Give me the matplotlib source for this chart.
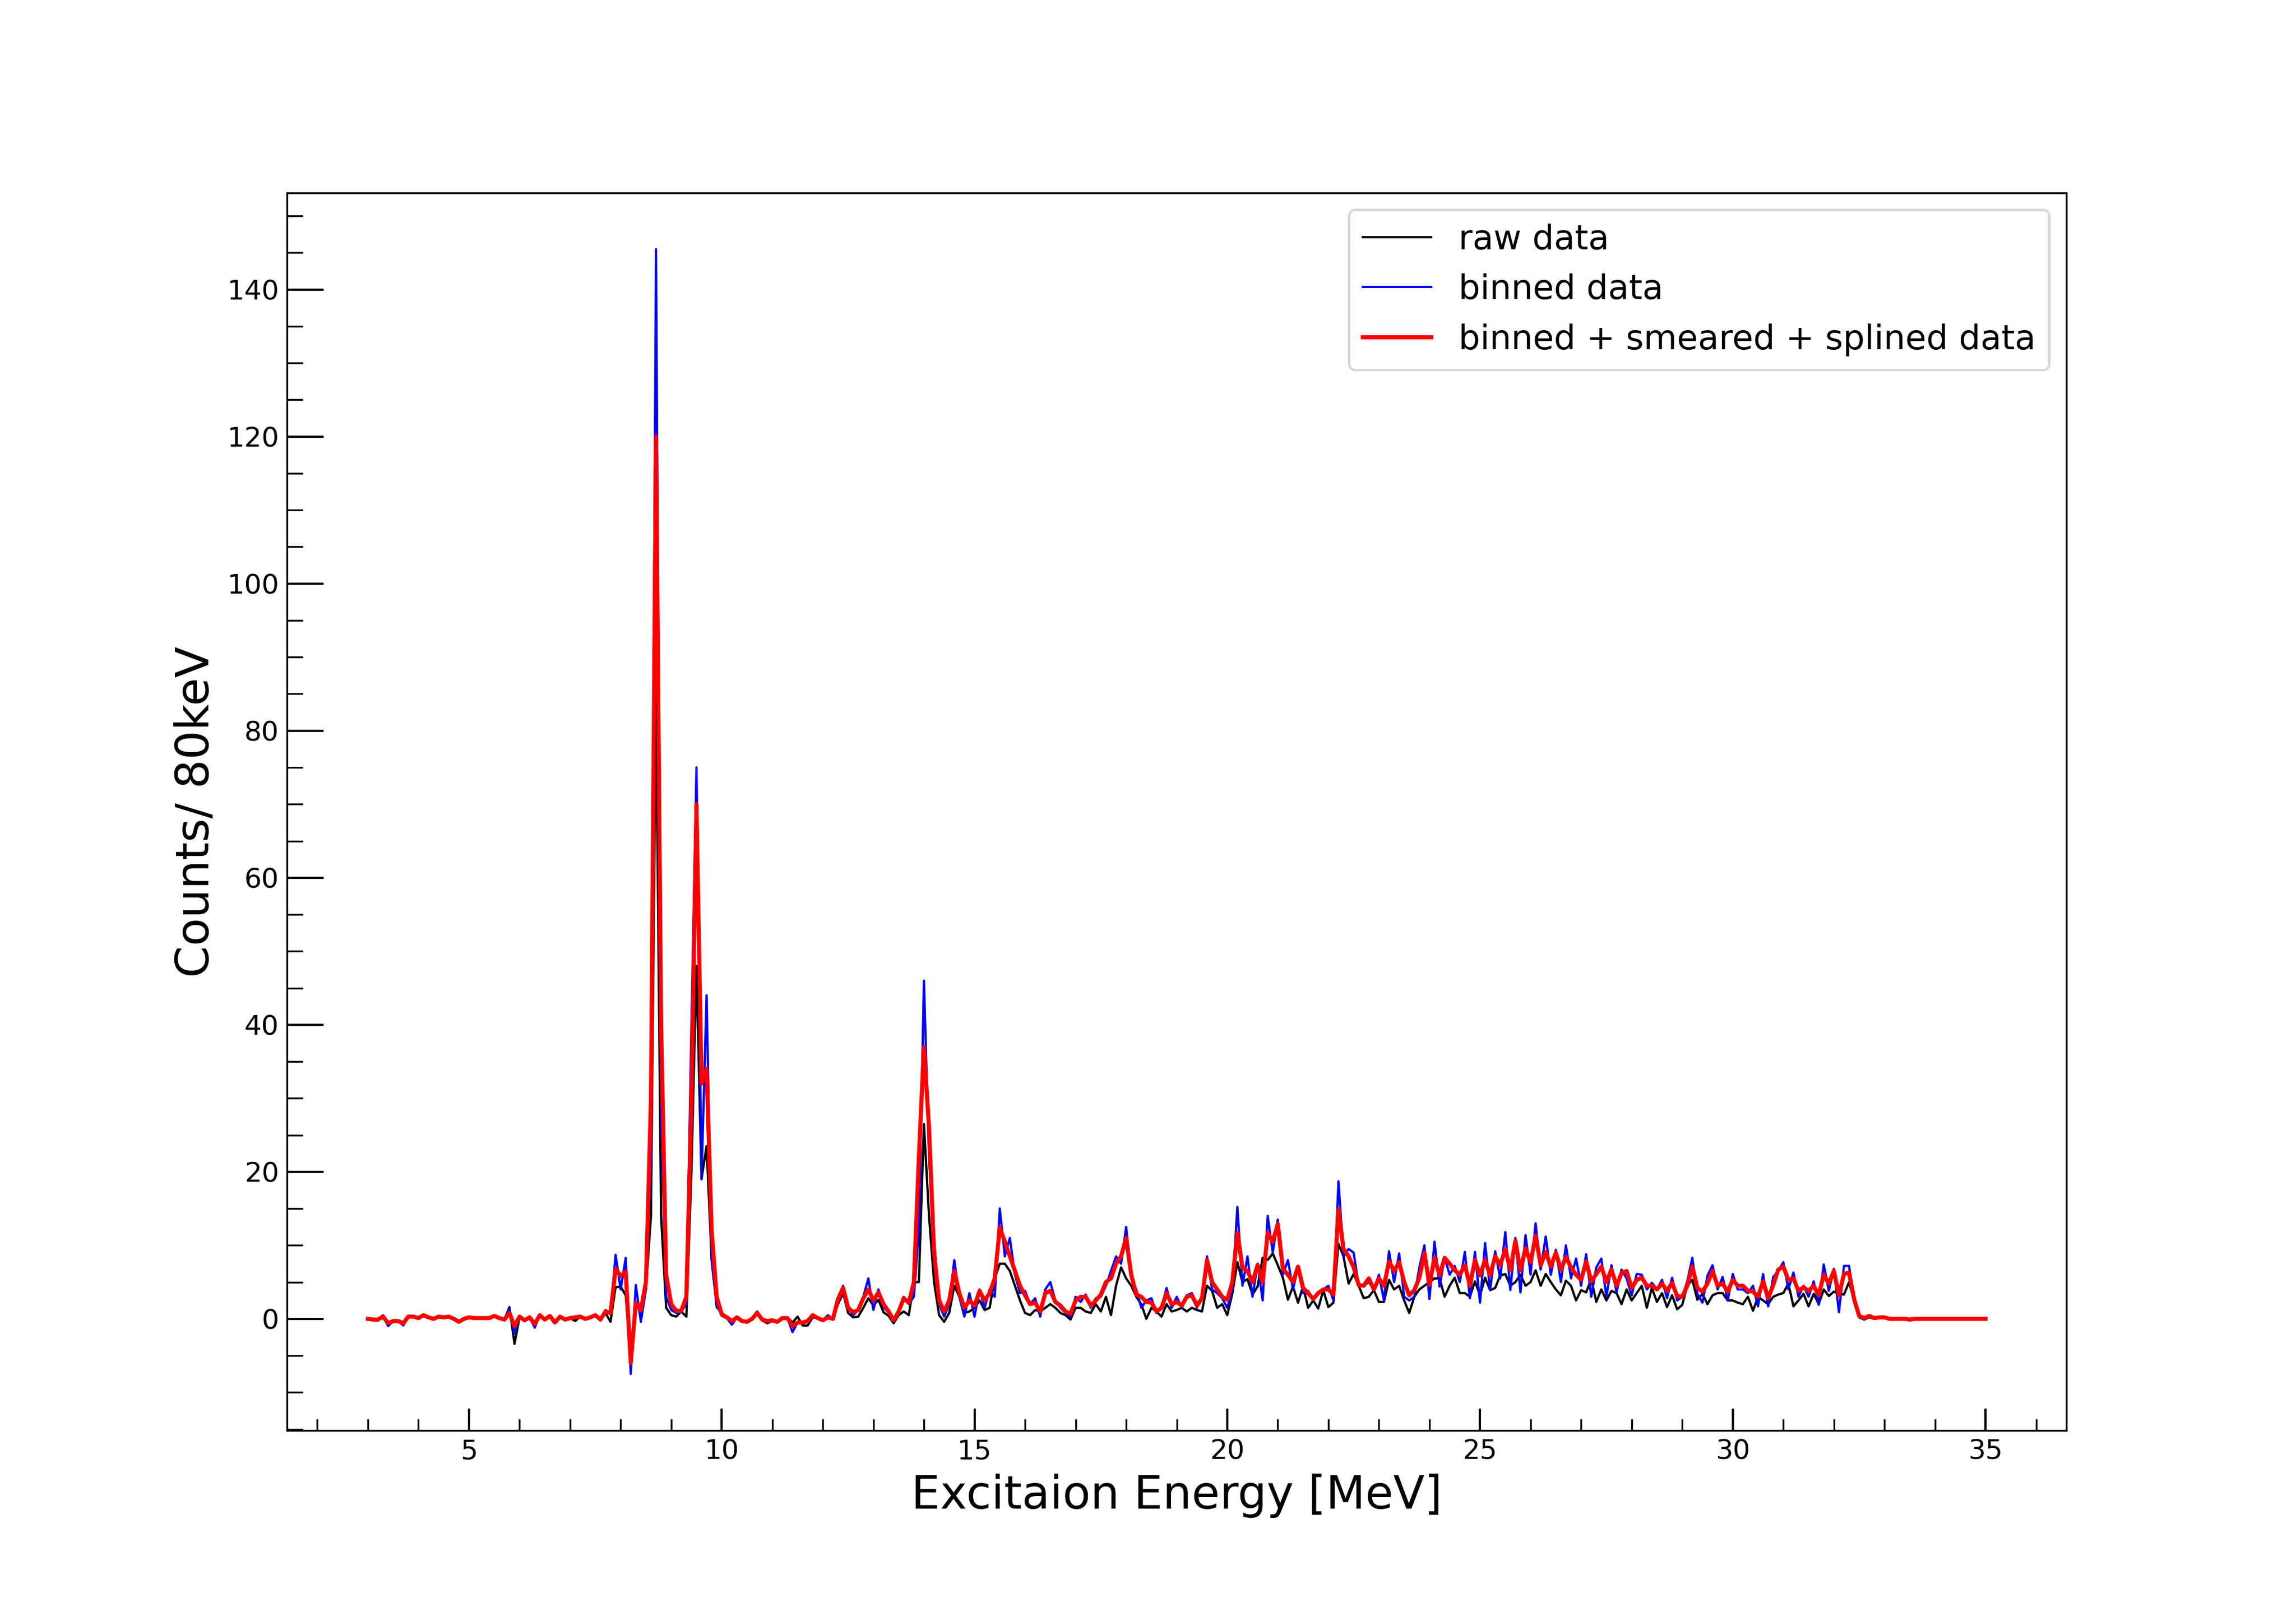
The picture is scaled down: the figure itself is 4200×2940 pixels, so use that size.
## Excitation energy spectrum: raw / binned / smeared

import numpy as np
import matplotlib
matplotlib.use("Agg")
import matplotlib.pyplot as plt
from matplotlib.ticker import MultipleLocator

# energy grid: 3.0 MeV ... 35.0 MeV in 0.1 MeV steps
e_start = 3.0
e_step = 0.1

# raw data (black)
raw_counts = [
    0.0, -0.1, -0.1, 0.3, -0.7, -0.2, -0.3, -0.7, 0.3, 0.3,      # 3
    0.1, 0.4, 0.2, 0.0, 0.3, 0.1, 0.3, 0.0, -0.4, 0.0,           # 4
    0.2, 0.1, 0.1, 0.1, 0.1, 0.3, 0.1, -0.1, 1.6, -3.4,          # 5
    0.2, -0.2, 0.2, -0.6, 0.4, -0.1, 0.3, -0.4, 0.3, -0.1,       # 6
    0.1, -0.3, 0.3, 0.0, 0.2, 0.4, -0.1, 0.8, -0.4, 4.3,         # 7
    4.4, 3.2, -5.5, 1.8, 1.0, 4.0, 14.0, 85.5, 14.0, 1.5,        # 8
    0.5, 0.3, 1.0, 0.3, 20.0, 48.0, 19.0, 23.5, 8.0, 1.6,        # 9
    0.8, 0.3, -0.3, 0.2, -0.3, -0.5, 0.0, 1.0, -0.2, -0.6,       # 10
    -0.3, -0.4, 0.2, 0.2, -0.5, 0.3, -0.9, -0.9, 0.2, 0.1,       # 11
    -0.2, 0.2, 0.0, 2.0, 3.5, 0.8, 0.2, 0.3, 1.5, 2.8,           # 12
    1.8, 2.6, 0.9, 0.4, -0.6, 0.5, 1.0, 0.5, 5.0, 5.0,           # 13
    26.5, 14.0, 5.0, 0.5, -0.4, 0.8, 4.5, 3.0, 0.8, 1.0,         # 14
    1.5, 2.5, 1.2, 1.5, 5.5, 7.5, 7.5, 6.5, 4.5, 2.5,            # 15
    0.8, 0.5, 1.2, 1.0, 1.5, 2.0, 1.5, 0.8, 0.5, -0.1,           # 16
    1.5, 1.5, 1.0, 0.8, 2.0, 1.0, 3.0, 0.5, 4.5, 7.0,            # 17
    5.5, 4.5, 3.0, 2.0, 0.0, 1.5, 1.0, 0.3, 2.0, 1.0,            # 18
    1.2, 1.5, 1.0, 1.5, 1.2, 1.0, 4.5, 3.8, 1.5, 2.0,            # 19
    0.5, 3.4, 7.7, 5.0, 5.4, 3.3, 4.4, 8.3, 8.0, 8.9,            # 20
    7.3, 5.6, 2.6, 4.4, 2.2, 4.4, 1.5, 2.5, 1.4, 3.9,            # 21
    1.6, 2.2, 10.2, 8.5, 4.8, 6.1, 4.5, 2.8, 3.0, 3.9,           # 22
    2.3, 2.3, 5.3, 4.0, 4.5, 2.5, 0.8, 3.0, 4.0, 4.5,            # 23
    5.0, 5.5, 5.5, 3.0, 4.5, 5.6, 3.5, 3.5, 3.0, 5.1,            # 24
    3.2, 5.6, 3.9, 4.2, 5.9, 6.1, 4.5, 5.0, 6.0, 4.5,            # 25
    5.0, 6.6, 4.5, 6.1, 5.0, 4.0, 3.2, 5.2, 4.5, 2.5,            # 26
    3.9, 3.6, 5.4, 2.3, 4.0, 2.5, 3.8, 3.5, 2.0, 4.0,            # 27
    2.5, 3.5, 4.5, 1.5, 4.2, 2.3, 3.5, 1.6, 3.2, 1.3,            # 28
    1.9, 4.5, 5.3, 2.6, 3.4, 2.0, 3.2, 3.5, 3.5, 2.5,            # 29
    2.5, 2.2, 2.0, 3.0, 1.1, 3.0, 2.5, 2.0, 3.0, 3.3,            # 30
    3.5, 4.8, 1.7, 2.5, 3.4, 1.7, 3.4, 2.0, 4.0, 3.1,            # 31
    3.7, 3.4, 3.3, 5.0, 2.5, 0.2, -0.1, 0.2, 0.0, 0.2,           # 32
    0.2, 0.0, 0.0, 0.0, 0.0, -0.1, 0.0, 0.0, 0.0, 0.0,           # 33
    0.0, 0.0, 0.0, 0.0, 0.0, 0.0, 0.0, 0.0, 0.0, 0.0,            # 34
    0.0,                                                          # 35
]

# binned data (blue)
binned_counts = [
    0.0, -0.1, -0.1, 0.5, -1.0, -0.3, -0.3, -0.9, 0.3, 0.3,      # 3
    0.1, 0.5, 0.2, 0.0, 0.3, 0.2, 0.3, 0.0, -0.4, 0.0,           # 4
    0.2, 0.1, 0.1, 0.1, 0.1, 0.4, 0.1, -0.1, 1.4, -2.0,          # 5
    0.4, -0.2, 0.2, -1.2, 0.5, -0.1, 0.4, -0.6, 0.3, -0.1,       # 6
    0.1, 0.2, 0.3, 0.0, 0.2, 0.5, -0.1, 1.2, 0.6, 8.7,           # 7
    4.0, 8.3, -7.5, 4.6, -0.4, 4.0, 22.0, 145.5, 28.0, 3.0,      # 8
    1.2, 0.8, 1.0, 2.0, 40.0, 75.0, 19.0, 44.0, 8.0, 2.0,        # 9
    0.4, 0.1, -0.8, 0.2, -0.3, -0.5, 0.0, 0.8, -0.1, -0.5,       # 10
    -0.3, -0.5, 0.2, 0.1, -1.8, -0.5, -0.6, -0.3, 0.5, 0.1,      # 11
    -0.2, 0.5, 0.0, 2.7, 4.5, 1.5, 0.5, 1.2, 3.0, 5.5,           # 12
    1.2, 4.0, 1.5, 1.0, -0.4, 0.8, 3.0, 2.0, 3.0, 12.0,          # 13
    46.0, 22.0, 11.0, 2.0, 0.3, 2.0, 8.0, 3.0, 0.3, 3.5,         # 14
    0.3, 4.0, 1.5, 4.0, 3.0, 15.0, 8.5, 11.0, 6.0, 3.5,          # 15
    3.8, 2.0, 2.8, 0.3, 4.0, 5.0, 2.5, 1.5, 0.8, 0.3,            # 16
    3.0, 2.3, 3.3, 1.5, 2.8, 3.0, 4.5, 6.5, 8.5, 7.5,            # 17
    12.5, 5.5, 4.0, 1.5, 2.5, 2.8, 0.8, 1.5, 4.2, 1.5,           # 18
    3.0, 1.5, 3.2, 3.5, 1.5, 3.0, 8.5, 4.0, 3.5, 2.8,            # 19
    1.5, 4.0, 15.2, 4.5, 8.5, 3.0, 7.5, 2.5, 14.0, 9.0,          # 20
    13.5, 6.0, 8.0, 4.0, 7.0, 3.5, 3.8, 2.5, 3.5, 4.0,           # 21
    4.5, 2.5, 18.7, 8.5, 9.5, 9.0, 4.5, 4.5, 5.0, 4.0,           # 22
    6.0, 2.5, 9.2, 5.0, 8.9, 3.0, 2.5, 3.0, 7.0, 10.0,           # 23
    2.7, 10.5, 4.4, 8.3, 6.0, 7.2, 5.0, 9.1, 2.8, 9.1,           # 24
    2.2, 10.3, 3.9, 9.2, 5.5, 11.8, 3.9, 11.0, 3.6, 11.4,        # 25
    6.0, 13.0, 6.7, 11.2, 6.0, 9.4, 5.0, 10.0, 5.5, 8.2,         # 26
    4.5, 8.8, 3.0, 7.0, 8.2, 3.0, 7.3, 3.6, 6.7, 5.5,            # 27
    3.2, 6.1, 6.0, 4.0, 4.9, 4.0, 5.3, 2.8, 5.6, 2.5,            # 28
    3.0, 5.1, 8.3, 3.4, 2.2, 5.9, 7.3, 4.0, 5.7, 2.5,            # 29
    6.1, 4.0, 4.0, 3.5, 4.5, 1.7, 6.1, 1.7, 5.7, 6.5,            # 30
    7.7, 4.0, 6.3, 3.0, 4.5, 3.0, 5.1, 1.9, 7.4, 3.8,            # 31
    6.8, 0.9, 7.2, 7.2, 2.5, 0.2, 0.1, 0.3, 0.1, 0.2,            # 32
    0.2, 0.0, 0.0, 0.0, 0.0, -0.1, 0.0, 0.0, 0.0, 0.0,           # 33
    0.0, 0.0, 0.0, 0.0, 0.0, 0.0, 0.0, 0.0, 0.0, 0.0,            # 34
    0.0,                                                          # 35
]

# binned + smeared + splined (red)
smeared_counts = [
    0.0, -0.1, -0.1, 0.3, -0.6, -0.3, -0.3, -0.6, 0.3, 0.3,      # 3
    0.1, 0.5, 0.2, 0.0, 0.3, 0.2, 0.3, 0.0, -0.4, 0.0,           # 4
    0.2, 0.1, 0.1, 0.1, 0.1, 0.4, 0.1, -0.1, 0.8, -1.0,          # 5
    0.3, -0.2, 0.2, -0.7, 0.5, -0.1, 0.4, -0.5, 0.3, -0.1,       # 6
    0.1, 0.2, 0.3, 0.0, 0.2, 0.5, -0.1, 1.0, 0.8, 6.8,           # 7
    5.8, 6.4, -6.0, 2.2, 1.2, 5.0, 30.0, 120.0, 40.0, 6.0,       # 8
    2.0, 1.1, 1.1, 3.0, 30.0, 70.0, 32.0, 34.0, 12.0, 3.0,       # 9
    0.6, 0.2, -0.3, 0.2, -0.3, -0.4, 0.0, 0.8, -0.1, -0.3,       # 10
    -0.2, -0.4, 0.1, 0.1, -1.0, -0.5, -0.5, -0.3, 0.5, 0.1,      # 11
    -0.2, 0.2, 0.0, 2.7, 4.2, 1.5, 0.9, 1.2, 2.8, 4.0,           # 12
    2.5, 3.6, 2.0, 1.0, -0.2, 1.0, 2.8, 2.2, 5.0, 22.0,          # 13
    37.0, 26.0, 9.0, 2.5, 1.0, 2.5, 6.5, 3.5, 1.5, 2.5,          # 14
    1.8, 3.8, 2.5, 3.5, 5.5, 12.4, 10.5, 8.5, 6.5, 4.5,          # 15
    3.2, 2.0, 2.2, 1.0, 3.5, 3.8, 2.3, 1.8, 1.0, 0.7,            # 16
    2.5, 3.0, 3.0, 1.8, 2.5, 3.3, 5.0, 5.5, 7.5, 8.5,            # 17
    11.0, 6.0, 3.3, 3.0, 2.3, 2.2, 1.0, 1.5, 3.5, 2.0,           # 18
    2.3, 1.8, 3.0, 3.2, 1.8, 2.8, 8.0, 5.0, 4.0, 3.0,            # 19
    2.6, 5.0, 11.7, 7.0, 6.5, 5.0, 7.3, 5.0, 11.7, 10.5,         # 20
    12.9, 6.8, 6.0, 5.0, 7.1, 4.2, 3.5, 2.7, 3.5, 4.0,           # 21
    4.0, 3.3, 14.9, 9.5, 8.5, 7.0, 4.6, 4.5, 5.5, 4.0,           # 22
    5.5, 4.5, 7.8, 6.5, 7.7, 5.0, 3.2, 3.9, 5.6, 9.0,            # 23
    4.6, 8.3, 5.9, 8.3, 7.5, 6.6, 6.0, 7.3, 4.5, 8.0,            # 24
    5.9, 8.0, 5.9, 8.5, 7.3, 9.5, 6.6, 10.6, 6.6, 9.6,           # 25
    7.7, 11.3, 7.3, 9.1, 7.1, 9.0, 6.7, 8.4, 7.0, 6.0,           # 26
    5.3, 7.8, 5.1, 6.1, 7.1, 5.0, 6.7, 4.5, 6.2, 6.5,            # 27
    4.2, 5.3, 5.6, 4.5, 4.5, 4.0, 4.8, 3.8, 4.9, 3.1,            # 28
    3.0, 4.5, 7.1, 4.2, 3.7, 4.8, 6.5, 4.5, 4.8, 3.7,            # 29
    5.3, 4.5, 4.5, 3.8, 3.7, 3.0, 5.1, 2.8, 4.6, 6.7,            # 30
    7.1, 5.3, 5.5, 3.8, 4.3, 3.8, 4.5, 3.2, 6.0, 4.8,            # 31
    6.5, 3.2, 6.1, 6.3, 2.7, 0.4, 0.1, 0.4, 0.1, 0.2,            # 32
    0.2, 0.0, 0.0, 0.0, 0.0, -0.1, 0.0, 0.0, 0.0, 0.0,           # 33
    0.0, 0.0, 0.0, 0.0, 0.0, 0.0, 0.0, 0.0, 0.0, 0.0,            # 34
    0.0,                                                          # 35
]

energy = e_start + e_step * np.arange(len(raw_counts))

fig, ax = plt.subplots(figsize=(14, 9.8), dpi=300)

ax.plot(energy, raw_counts, color="black", lw=1.0, label="raw data")
ax.plot(energy, binned_counts, color="blue", lw=1.0, label="binned data")
ax.plot(energy, smeared_counts, color="red", lw=1.8,
        label="binned + smeared + splined data")

ax.set_xlabel("Excitaion Energy [MeV]", fontsize=20)
ax.set_ylabel("Counts/ 80keV", fontsize=20)

# 눈금
ax.xaxis.set_major_locator(MultipleLocator(5))
ax.xaxis.set_minor_locator(MultipleLocator(1))
ax.yaxis.set_major_locator(MultipleLocator(20))
ax.yaxis.set_minor_locator(MultipleLocator(5))
ax.tick_params(axis="both", which="both", direction="in", labelsize=12)
ax.tick_params(axis="x", which="major", length=9.6, width=1.0)
ax.tick_params(axis="x", which="minor", length=5, width=0.8)
ax.tick_params(axis="y", which="major", length=16, width=1.0)
ax.tick_params(axis="y", which="minor", length=7, width=0.8)

ax.legend(loc="upper right", fontsize=15)

fig.savefig("out.png")
